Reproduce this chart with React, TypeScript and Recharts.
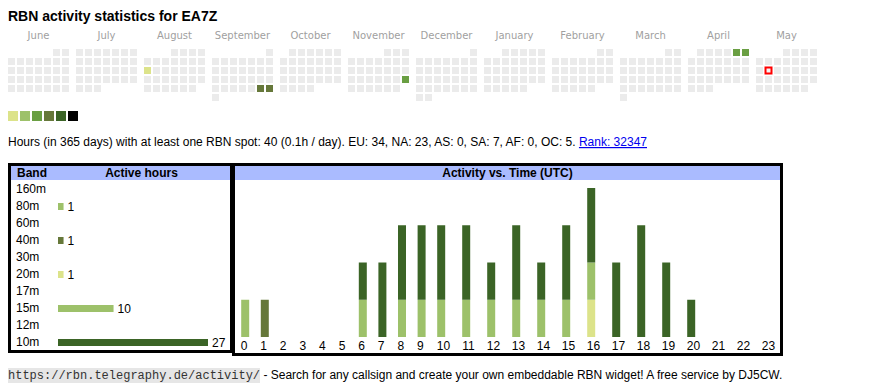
import React from 'react';
import { ScatterChart, Scatter, XAxis, YAxis, BarChart, Bar, Cell, LabelList } from 'recharts';

const SANS = "'Liberation Sans', Arial, sans-serif";

// ---------- calendar data ----------
const MONTH_NAMES = ['June', 'July', 'August', 'September', 'October', 'November', 'December', 'January', 'February', 'March', 'April', 'May'];
const FIRST_YEAR = 2024;
const FIRST_MONTH = 5; // June (0-based)
const ACTIVE_DATES = ['2024-08-12', '2024-09-28', '2024-09-29', '2024-11-24', '2025-04-05', '2025-04-06'];
const ACTIVE_LEVELS = [1, 4, 4, 3, 3, 3];
const TODAY = '2025-05-13';
const LEVEL_COLORS = ['#ebebeb', '#dce38a', '#9dc16a', '#6a9f43', '#66783a', '#3b6426', '#000000'];

// ---------- band table data ----------
const BANDS = ['160m', '80m', '60m', '40m', '30m', '20m', '17m', '15m', '12m', '10m'];
const BAND_HOURS = [0, 1, 0, 1, 0, 1, 0, 10, 0, 27];
const BAND_COLORS = ['#b7c98f', '#9dc16a', '#c5d68c', '#66783a', '#8aa050', '#dce38a', '#a8c878', '#9dc16a', '#507a30', '#3b6426'];

// ---------- activity vs time data ----------
const HOUR_LABELS = ['0', '1', '2', '3', '4', '5', '6', '7', '8', '9', '10', '11', '12', '13', '14', '15', '16', '17', '18', '19', '20', '21', '22', '23'];
const ACT_80M = [1, 0, 0, 0, 0, 0, 0, 0, 0, 0, 0, 0, 0, 0, 0, 0, 0, 0, 0, 0, 0, 0, 0, 0];
const ACT_40M = [0, 1, 0, 0, 0, 0, 0, 0, 0, 0, 0, 0, 0, 0, 0, 0, 0, 0, 0, 0, 0, 0, 0, 0];
const ACT_20M = [0, 0, 0, 0, 0, 0, 0, 0, 0, 0, 0, 0, 0, 0, 0, 0, 1, 0, 0, 0, 0, 0, 0, 0];
const ACT_15M = [0, 0, 0, 0, 0, 0, 1, 0, 1, 1, 1, 1, 1, 1, 1, 1, 1, 0, 0, 0, 0, 0, 0, 0];
const ACT_10M = [0, 0, 0, 0, 0, 0, 1, 2, 2, 2, 2, 2, 1, 2, 1, 2, 2, 2, 3, 2, 1, 0, 0, 0];

const STACK = [
  { band: '80m', values: ACT_80M, color: '#9dc16a' },
  { band: '40m', values: ACT_40M, color: '#66783a' },
  { band: '20m', values: ACT_20M, color: '#dce38a' },
  { band: '15m', values: ACT_15M, color: '#9dc16a' },
  { band: '10m', values: ACT_10M, color: '#3b6426' },
];

// ---------- layout constants ----------
const CELL = 7;
const CELL_PITCH = 9;
const MONTH_PITCH = 68;

function pad(n: number) {
  return String(n).padStart(2, '0');
}

function buildCalendar() {
  const cells: any[] = [];
  for (let m = 0; m < 12; m++) {
    const y = FIRST_YEAR + Math.floor((FIRST_MONTH + m) / 12);
    const mo = (FIRST_MONTH + m) % 12;
    const first = (new Date(y, mo, 1).getDay() + 6) % 7;
    const n = new Date(y, mo + 1, 0).getDate();
    for (let d = 1; d <= n; d++) {
      const idx = first + d - 1;
      const row = Math.floor(idx / 7);
      const col = idx % 7;
      const key = `${y}-${pad(mo + 1)}-${pad(d)}`;
      const ai = ACTIVE_DATES.indexOf(key);
      cells.push({
        x: m * MONTH_PITCH + col * CELL_PITCH + CELL / 2,
        y: row * CELL_PITCH + CELL / 2,
        level: ai >= 0 ? ACTIVE_LEVELS[ai] : 0,
        today: key === TODAY,
      });
    }
  }
  return cells;
}

const calendarCells = buildCalendar();
const monthTicks = MONTH_NAMES.map((_, m) => m * MONTH_PITCH + (6 * CELL_PITCH + CELL) / 2);

const renderCell = (props: any) => {
  const { cx, cy, payload } = props;
  const x0 = Math.round(cx - CELL / 2);
  const y0 = Math.round(cy - CELL / 2);
  if (payload.today) {
    return (
      <g>
        <rect x={x0 - 0.5} y={y0 - 0.5} width={CELL + 1} height={CELL + 1} fill="#ff0000" />
        <rect x={x0 + 1.5} y={y0 + 1.5} width={CELL - 3} height={CELL - 3} fill="#f4f4f4" />
      </g>
    );
  }
  return <rect x={x0} y={y0} width={CELL} height={CELL} fill={LEVEL_COLORS[payload.level]} />;
};

const MonthTick = (props: any) => {
  const { x, index } = props;
  return (
    <text x={x} y={14.5} textAnchor="middle" fontFamily="'DejaVu Sans', sans-serif" fontSize={10} fill="#9f9f9f">
      {MONTH_NAMES[index]}
    </text>
  );
};

// band table
const bandRows = BANDS.map((b, i) => ({ band: b, hours: BAND_HOURS[i] }));
const BandTick = (props: any) => {
  const { y, payload } = props;
  return (
    <text x={5} y={y + 3.5} fontFamily={SANS} fontSize={12} fill="#000">
      {payload.value}
    </text>
  );
};

// activity chart
const HOUR_X: number[] = (() => {
  let acc = 10;
  return HOUR_LABELS.map((l) => {
    const c = acc;
    acc += l.length === 1 ? 19.6 : 25;
    return c;
  });
})();
const activityRows = HOUR_LABELS.map((label, i) => {
  const row: any = { hour: label, x: HOUR_X[i] };
  STACK.forEach((s) => {
    row[s.band] = s.values[i];
  });
  return row;
});
const HourTick = (props: any) => {
  const { x, index } = props;
  const label = HOUR_LABELS[index];
  const dx = label.length === 1 ? -1 : 2.5;
  return (
    <text x={x + dx} y={170} textAnchor="middle" fontFamily={SANS} fontSize={12} fill="#000">
      {label}
    </text>
  );
};

export default function App() {
  return (
    <div style={{ position: 'absolute', left: 0, top: 0, width: 870, height: 390, background: '#fff', fontFamily: SANS }}>
      <svg width={870} height={390} style={{ position: 'absolute', left: 0, top: 0 }}>
        <text x={8} y={21} fontFamily={SANS} fontSize={14} fontWeight="bold" fill="#000">
          RBN activity statistics for EA7Z
        </text>
        {LEVEL_COLORS.slice(1).map((c, i) => (
          <rect key={i} x={8 + i * 12} y={111} width={10} height={10} fill={c} />
        ))}
        <text x={8} y={146} fontFamily={SANS} fontSize={12} fill="#000">
          <tspan>Hours (in 365 days) with at least one RBN spot: 40 (0.1h / day). EU: 34, NA: 23, AS: 0, SA: 7, AF: 0, OC: 5. </tspan>
          <tspan fill="#0000ee" style={{ textDecoration: 'underline' }}>Rank: 32347</tspan>
        </text>

        {/* band table box */}
        <rect x={11} y={166} width={219} height={14} fill="#aabbff" />
        <rect x={9.5} y={164.5} width={222} height={187} fill="none" stroke="#000" strokeWidth={3} />
        <text x={17} y={177} fontFamily={SANS} fontSize={12} fontWeight="bold">Band</text>
        <text x={141.5} y={177} fontFamily={SANS} fontSize={12} fontWeight="bold" textAnchor="middle">Active hours</text>

        {/* activity box */}
        <rect x={235} y={166} width={545} height={14} fill="#aabbff" />
        <rect x={233.5} y={164.5} width={548} height={190} fill="none" stroke="#000" strokeWidth={3} />
        <text x={507.5} y={177} fontFamily={SANS} fontSize={12} fontWeight="bold" textAnchor="middle">Activity vs. Time (UTC)</text>

        {/* footer */}
        <rect x={8} y={368} width={252} height={15} fill="#e6e6e6" />
        <text x={8} y={379} fontSize={12} fill="#000">
          <tspan fontFamily="'Liberation Mono', 'Courier New', monospace" fill="#333">https://rbn.telegraphy.de/activity/</tspan>
          <tspan fontFamily={SANS}> - Search for any callsign and create your own embeddable RBN widget! A free service by DJ5CW.</tspan>
        </text>
      </svg>

      <div style={{ position: 'absolute', left: 8, top: 24 }}>
        <ScatterChart width={816} height={80} margin={{ top: 0, right: 0, bottom: 0, left: 0 }}>
          <XAxis
            type="number"
            dataKey="x"
            domain={[0, 816]}
            orientation="top"
            height={25}
            ticks={monthTicks}
            interval={0}
            tick={MonthTick}
            axisLine={false}
            tickLine={false}
            allowDataOverflow
          />
          <YAxis type="number" dataKey="y" domain={[0, 55]} reversed hide allowDataOverflow />
          <Scatter data={calendarCells} shape={renderCell} isAnimationActive={false} />
        </ScatterChart>
      </div>

      <div style={{ position: 'absolute', left: 11, top: 181 }}>
        <BarChart layout="vertical" width={219} height={170} data={bandRows} margin={{ top: 0, right: 22, bottom: 0, left: 0 }}>
          <XAxis type="number" domain={[0, 27]} hide allowDataOverflow />
          <YAxis type="category" dataKey="band" width={47} axisLine={false} tickLine={false} tick={BandTick} interval={0} />
          <Bar dataKey="hours" barSize={7} isAnimationActive={false}>
            {bandRows.map((r, i) => (
              <Cell key={r.band} fill={BAND_COLORS[i]} />
            ))}
            <LabelList dataKey="hours" position="right" offset={4} fill="#000" fontSize={12} fontFamily={SANS} formatter={(v: any) => (v ? v : '')} />
          </Bar>
        </BarChart>
      </div>

      <div style={{ position: 'absolute', left: 235, top: 180 }}>
        <BarChart width={545} height={173} data={activityRows} margin={{ top: 8, right: 0, bottom: 0, left: 0 }}>
          <XAxis
            type="number"
            dataKey="x"
            domain={[0, 545]}
            ticks={HOUR_X}
            interval={0}
            height={16}
            tick={HourTick}
            axisLine={false}
            tickLine={false}
            allowDataOverflow
          />
          <YAxis type="number" domain={[0, 4]} hide allowDataOverflow />
          {STACK.map((s) => (
            <Bar key={s.band} dataKey={s.band} stackId="a" fill={s.color} barSize={8} isAnimationActive={false} />
          ))}
        </BarChart>
      </div>
    </div>
  );
}
